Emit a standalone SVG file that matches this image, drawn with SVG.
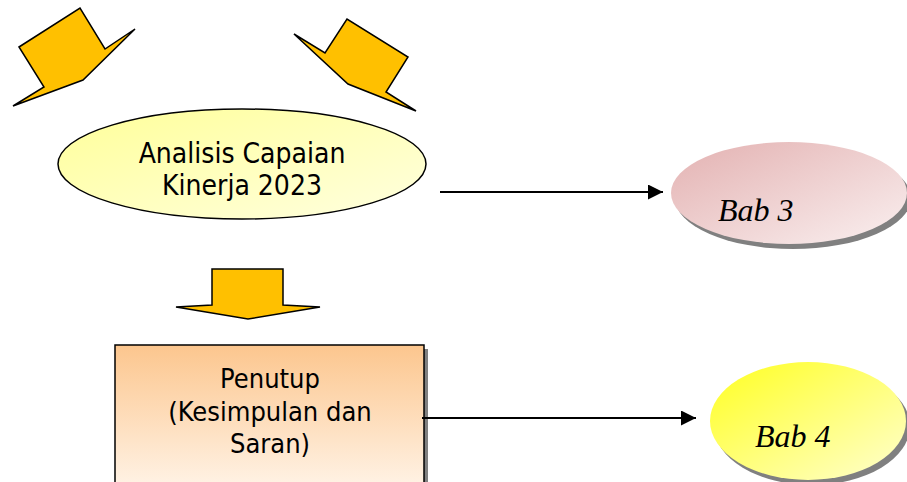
<svg xmlns="http://www.w3.org/2000/svg" width="907" height="482" viewBox="0 0 907 482">
  <style>
    .block { fill: #ffc000; stroke: #000; stroke-width: 1.5; stroke-linejoin: miter; }
    .sans { font-family: "DejaVu Sans Condensed", "DejaVu Sans", sans-serif; fill: #000; text-anchor: middle; }
    .serif { font-family: "Liberation Serif", "DejaVu Serif", serif; font-style: italic; fill: #000; }
    .link { stroke: #000; stroke-width: 2; fill: none; marker-end: url(#head); }
    .shadow { fill: #808080; }
  </style>
  <defs>
    <marker id="head" viewBox="0 0 10 10" refX="10" refY="5" markerWidth="7.5" markerHeight="7.5" markerUnits="strokeWidth" orient="auto">
      <path d="M0,0 L10,5 L0,10 z" fill="#000"/>
    </marker>
    <linearGradient id="gYellowPale" x1="0" y1="0" x2="1" y2="1">
      <stop offset="0" stop-color="#ffff99"/>
      <stop offset="1" stop-color="#ffffe0"/>
    </linearGradient>
    <linearGradient id="gPink" x1="0" y1="0" x2="1" y2="1">
      <stop offset="0" stop-color="#e3b1b1"/>
      <stop offset="1" stop-color="#faf0f0"/>
    </linearGradient>
    <linearGradient id="gYellow" x1="0" y1="0" x2="1" y2="1">
      <stop offset="0" stop-color="#ffff20"/>
      <stop offset="1" stop-color="#ffffd0"/>
    </linearGradient>
    <linearGradient id="gPeach" x1="0" y1="0" x2="0" y2="1">
      <stop offset="0" stop-color="#fcc68e"/>
      <stop offset="1" stop-color="#fff2e4"/>
    </linearGradient>
  </defs>

  <!-- bent block arrows at the top -->
  <g id="arrow-left">
    <polygon class="block" points="19,47 80,8 105,49 135,29 83,80 13,106 44,87"/>
  </g>
  <g id="arrow-right">
    <polygon class="block" points="294,34 325,53 347,19 408,57 386,92 416,111 348,84"/>
  </g>

  <!-- central analysis ellipse -->
  <g id="analisis">
    <ellipse cx="242" cy="164" rx="184" ry="55" fill="url(#gYellowPale)" stroke="#000" stroke-width="1.5"/>
    <text class="sans" x="242" y="163" font-size="28">Analisis Capaian</text>
    <text class="sans" x="242" y="195" font-size="28">Kinerja 2023</text>
  </g>

  <!-- downward block arrow -->
  <g id="arrow-down">
    <polygon class="block" points="212,269 283,269 283,305 320,307 248,319 176,307 212,305"/>
  </g>

  <!-- closing chapter box -->
  <g id="penutup">
    <rect class="shadow" x="119" y="349" width="309" height="140"/>
    <rect x="115" y="345" width="309" height="140" fill="url(#gPeach)" stroke="#000" stroke-width="1.5"/>
    <text class="sans" x="270" y="388" font-size="27">Penutup</text>
    <text class="sans" x="270" y="421" font-size="27">(Kesimpulan dan</text>
    <text class="sans" x="270" y="453" font-size="27">Saran)</text>
  </g>

  <!-- chapter ellipses -->
  <g id="bab3">
    <ellipse class="shadow" cx="793" cy="198" rx="118" ry="51"/>
    <ellipse cx="789" cy="193" rx="118" ry="51" fill="url(#gPink)"/>
    <text class="serif" x="718" y="221" font-size="32">Bab 3</text>
  </g>
  <g id="bab4">
    <ellipse class="shadow" cx="812" cy="426" rx="98" ry="59"/>
    <ellipse cx="808" cy="421" rx="98" ry="59" fill="url(#gYellow)"/>
    <text class="serif" x="755" y="447" font-size="32">Bab 4</text>
  </g>

  <!-- connectors -->
  <g id="connectors">
    <line class="link" x1="440" y1="192" x2="663" y2="192"/>
    <line class="link" x1="422" y1="418" x2="696" y2="418"/>
  </g>
</svg>
